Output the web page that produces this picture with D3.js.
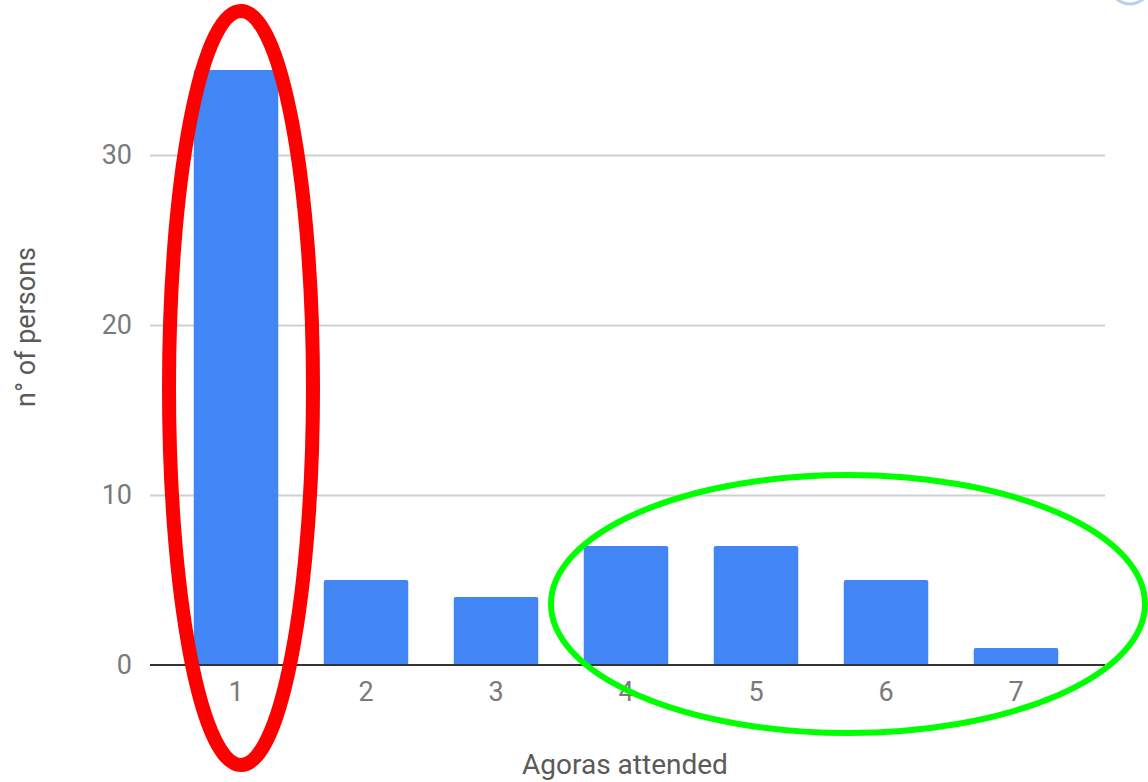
<!DOCTYPE html>
<html>
<head>
<meta charset="utf-8">
<script src="https://cdn.jsdelivr.net/npm/d3@7"></script>
<style>
  html, body { margin: 0; padding: 0; background: #fff; }
  svg { display: block; font-family: Roboto, "Noto Sans", sans-serif; }
</style>
</head>
<body>
<div id="chart"></div>
<script>
  const agoras = ['1', '2', '3', '4', '5', '6', '7'];
  const persons = [35, 5, 4, 7, 7, 5, 1];
  const yTicks = [0, 10, 20, 30];

  const width = 1148;
  const height = 782;
  const plot = { left: 150, right: 1105, top: 20, bottom: 665 };

  const svg = d3
    .select('#chart')
    .append('svg')
    .attr('width', width)
    .attr('height', height);

  // scales
  const xScale = d3
    .scaleBand()
    .domain(agoras)
    .range([171, 1081])
    .paddingInner(0.35)
    .paddingOuter(0.175);
  const yScale = d3.scaleLinear().domain([0, 10]).range([plot.bottom, 495]);

  // gridlines
  const grid = svg
    .append('g')
    .attr('transform', `translate(${plot.left},0)`)
    .call(
      d3.axisLeft(yScale)
        .tickValues(yTicks.filter((t) => t > 0))
        .tickSize(-(plot.right - plot.left))
        .tickFormat(''),
    );
  grid.select('.domain').remove();
  grid.selectAll('line').attr('stroke', '#d0d0d0').attr('stroke-width', 2);

  // y tick labels
  const yAxis = svg
    .append('g')
    .attr('transform', `translate(${plot.left},0)`)
    .call(d3.axisLeft(yScale).tickValues(yTicks).tickSize(0).tickPadding(18));
  yAxis.select('.domain').remove();
  yAxis
    .selectAll('text')
    .attr('fill', '#7a7a7a')
    .attr('font-size', 27)
    .attr('font-family', 'Roboto, sans-serif');

  // bars
  svg
    .append('g')
    .selectAll('rect')
    .data(persons)
    .join('rect')
    .attr('x', (d, i) => xScale(agoras[i]))
    .attr('y', (d) => yScale(d))
    .attr('width', xScale.bandwidth())
    .attr('height', (d) => yScale(0) - yScale(d))
    .attr('rx', 2)
    .attr('fill', '#4285f4');

  // baseline
  svg
    .append('line')
    .attr('x1', plot.left)
    .attr('x2', plot.right)
    .attr('y1', yScale(0))
    .attr('y2', yScale(0))
    .attr('stroke', '#333')
    .attr('stroke-width', 2);

  // x tick labels
  const xAxis = svg
    .append('g')
    .attr('transform', `translate(0,${plot.bottom})`)
    .call(d3.axisBottom(xScale).tickSize(0).tickPadding(17));
  xAxis.select('.domain').remove();
  xAxis
    .selectAll('text')
    .attr('fill', '#7a7a7a')
    .attr('font-size', 27)
    .attr('font-family', 'Roboto, sans-serif');

  // axis titles
  svg
    .append('text')
    .attr('x', 625)
    .attr('y', 774)
    .attr('text-anchor', 'middle')
    .attr('fill', '#5a5a5a')
    .attr('font-size', 28)
    .text('Agoras attended');

  svg
    .append('text')
    .attr('transform', 'translate(35,327) rotate(-90)')
    .attr('text-anchor', 'middle')
    .attr('fill', '#5a5a5a')
    .attr('font-size', 27)
    .text('n° of persons');

  // hand-drawn highlight ellipses
  svg
    .append('ellipse')
    .attr('cx', 241)
    .attr('cy', 388)
    .attr('rx', 72)
    .attr('ry', 377)
    .attr('fill', 'none')
    .attr('stroke', '#ff0000')
    .attr('stroke-width', 14);

  svg
    .append('ellipse')
    .attr('cx', 848)
    .attr('cy', 604)
    .attr('rx', 297)
    .attr('ry', 129)
    .attr('fill', 'none')
    .attr('stroke', '#00ff00')
    .attr('stroke-width', 6);

  // cropped icon fragment top right
  svg
    .append('circle')
    .attr('cx', 1130)
    .attr('cy', -16)
    .attr('r', 20)
    .attr('fill', 'none')
    .attr('stroke', '#b8cff0')
    .attr('stroke-width', 3);
</script>
</body>
</html>
